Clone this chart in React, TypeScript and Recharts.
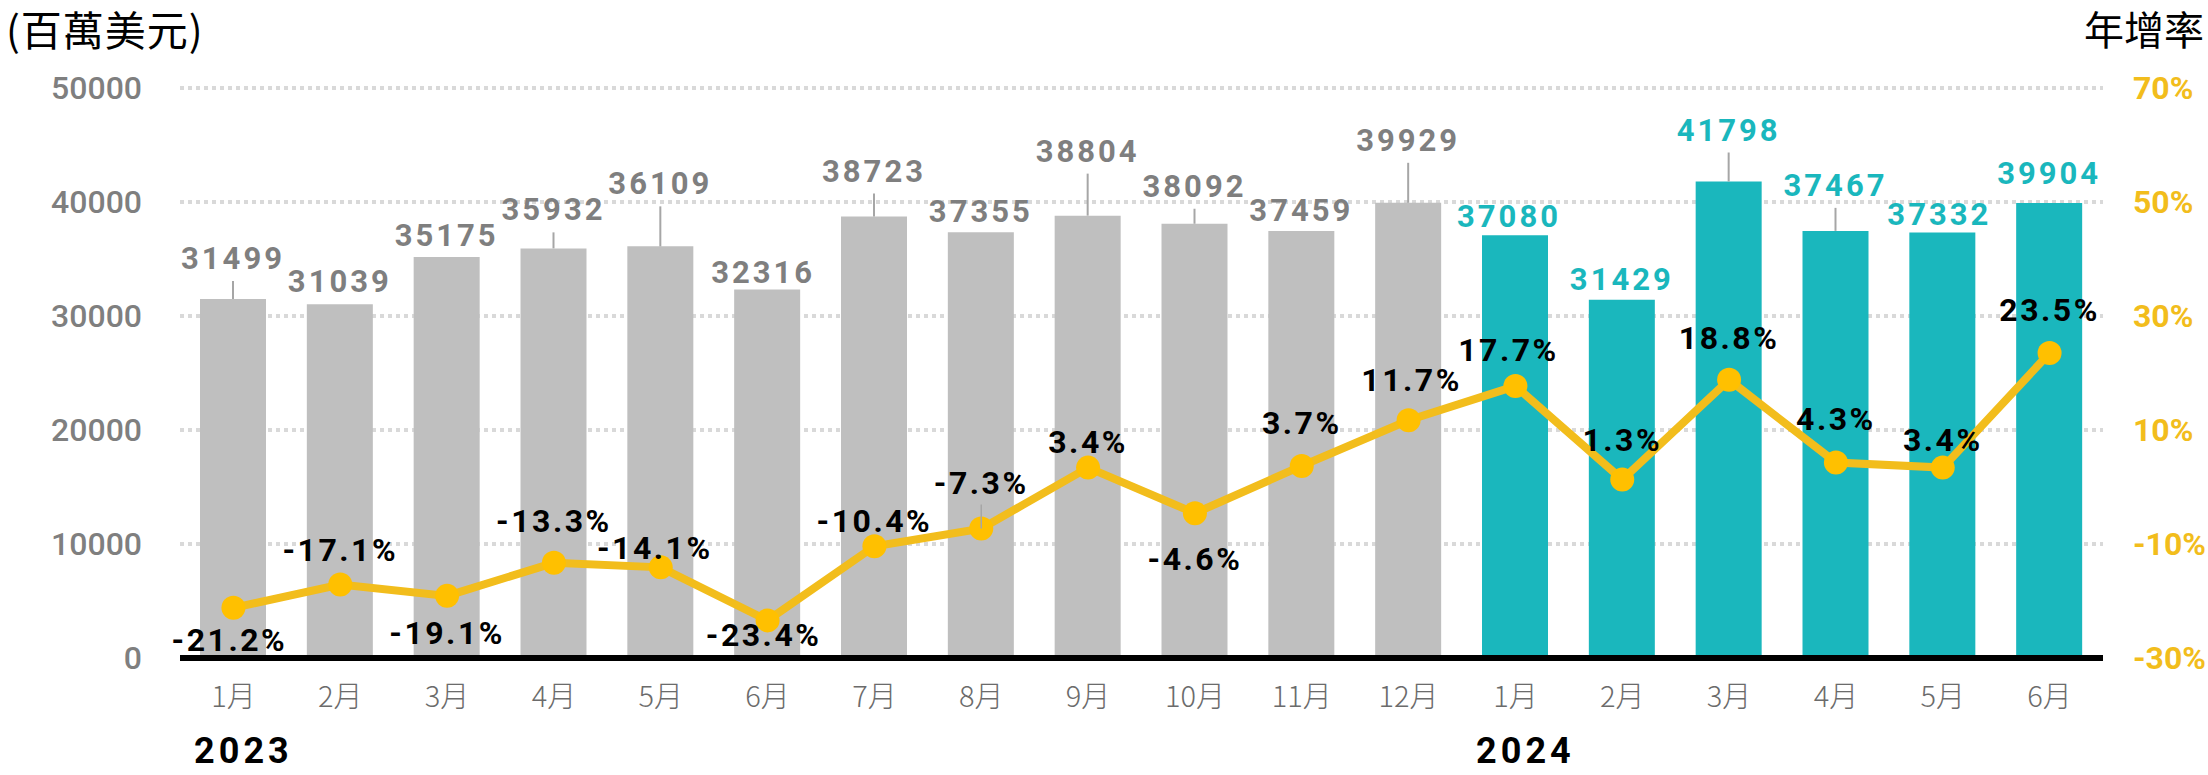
import React from "react"
import {
  ComposedChart,
  Bar,
  Line,
  XAxis,
  YAxis,
  CartesianGrid,
  Cell,
  LabelList,
} from "recharts"

const months = ["1月", "2月", "3月", "4月", "5月", "6月", "7月", "8月", "9月", "10月", "11月", "12月", "1月", "2月", "3月", "4月", "5月", "6月"]
const years = ["2023", "2023", "2023", "2023", "2023", "2023", "2023", "2023", "2023", "2023", "2023", "2023", "2024", "2024", "2024", "2024", "2024", "2024"]
const exportValues = [31499, 31039, 35175, 35932, 36109, 32316, 38723, 37355, 38804, 38092, 37459, 39929, 37080, 31429, 41798, 37467, 37332, 39904]
const growthRates = [-21.2, -17.1, -19.1, -13.3, -14.1, -23.4, -10.4, -7.3, 3.4, -4.6, 3.7, 11.7, 17.7, 1.3, 18.8, 4.3, 3.4, 23.5]
const leftTicks = [0, 10000, 20000, 30000, 40000, 50000]
const rightTicks = [-30, -10, 10, 30, 50, 70]

// label placement
const barLabelGap = [30, 12, 11, 28, 52, 7, 35, 10, 54, 27, 10, 52, 8, 10, 41, 35, 7, 19]
const barLabelDx = [0, 0, 0, 0, 0, -4, 0, 0, 0, 0, 0, 0, -6, 0, 0, 0, -3, 0]
const growthLabelDy = [43, -23, 48, -31, -8, 26, -14, -35, -15, 57, -32, -29, -25, -29, -31, -32, -17, -32]
const growthLabelDx = [-4, 0, 0, 0, -6, -4, 0, 0, 0, 0, 0, 3, -7, 0, 0, 0, 0, 0]

const GRAY = "#BFBFBF"
const TEAL = "#1AB7BD"
const GOLD = "#F2BD1C"
const NUM_FONT = "Roboto, 'Noto Sans CJK TC', sans-serif"
const CJK_FONT = "'Noto Sans CJK TC', 'Noto Sans', sans-serif"

const data = months.map((m, i) => ({
  key: `${years[i]}-${i}`,
  month: m,
  year: years[i],
  value: exportValues[i],
  growth: growthRates[i],
}))

function MonthTick(props: any) {
  const { x, y, payload } = props
  const i = data.findIndex((d) => d.key === payload.value)
  if (i < 0) return null
  const showYear = i === 0 || (i > 0 && years[i] !== years[i - 1])
  return (
    <g>
      <text x={x} y={y + 41} textAnchor="middle" fill="#6B6B6B" fontSize={29} fontWeight={300} fontFamily={CJK_FONT}>
        {months[i]}
      </text>
      {showYear && (
        <text x={x + 10} y={y + 97} textAnchor="middle" fill="#000" fontSize={36} fontWeight={700} letterSpacing={4} fontFamily={NUM_FONT}>
          {years[i]}
        </text>
      )}
    </g>
  )
}

function BarValueLabel(props: any) {
  const { x, y, width, index, value } = props
  const cx = Number(x) + Number(width) / 2 + (barLabelDx[index] ?? 0)
  const top = Number(y)
  const gap = barLabelGap[index] ?? 10
  const base = top - gap
  const color = years[index] === "2023" ? "#7F7F7F" : TEAL
  return (
    <g>
      {gap > 20 && (
        <line x1={cx} x2={cx} y1={top} y2={base + 12} stroke="#A6A6A6" strokeWidth={2} />
      )}
      <text x={cx} y={base} textAnchor="middle" fill={color} fontSize={31} fontWeight={700} letterSpacing={3} fontFamily={NUM_FONT}>
        {value}
      </text>
    </g>
  )
}

function GrowthLabel(props: any) {
  const { x, y, index, value } = props
  const dy = growthLabelDy[index] ?? -25
  const dx = growthLabelDx[index] ?? 0
  return (
    <g>
      {index === 7 && (
        <line x1={Number(x)} x2={Number(x)} y1={Number(y)} y2={Number(y) - 24} stroke="#A6A6A6" strokeWidth={1.5} />
      )}
      <text x={Number(x) + dx} y={Number(y) + dy} textAnchor="middle" fill="#000" fontSize={32} fontWeight={700} letterSpacing={2.5} fontFamily={NUM_FONT}>
        {Number(value).toFixed(1)}%
      </text>
    </g>
  )
}

export default function App() {
  return (
    <div style={{ position: "absolute", left: 0, top: 0, width: 2208, height: 775, background: "#fff" }}>
      <div style={{ position: "absolute", left: 6, top: 6, fontSize: 41, lineHeight: "44px", letterSpacing: 1, fontFamily: CJK_FONT, color: "#000" }}>
        (百萬美元)
      </div>
      <div style={{ position: "absolute", right: 4, top: 6, fontSize: 40, lineHeight: "44px", fontFamily: CJK_FONT, color: "#000" }}>
        年增率
      </div>
      <ComposedChart width={2208} height={775} data={data} margin={{ top: 88, right: 5, bottom: 16, left: 10 }}>
        <CartesianGrid yAxisId="left" vertical={false} stroke="#D9D9D9" strokeWidth={4} strokeDasharray="4 4" />
        <XAxis
          dataKey="key"
          height={101}
          interval={0}
          tickLine={false}
          axisLine={{ stroke: "#000", strokeWidth: 6 }}
          tick={<MonthTick />}
        />
        <YAxis
          yAxisId="left"
          width={170}
          domain={[0, 50000]}
          ticks={leftTicks}
          tickLine={false}
          axisLine={false}
          tickMargin={32}
          tick={{ fill: "#7F7F7F", fontSize: 32, fontWeight: 500, fontFamily: NUM_FONT }}
        />
        <YAxis
          yAxisId="right"
          orientation="right"
          width={100}
          domain={[-30, 70]}
          ticks={rightTicks}
          tickLine={false}
          axisLine={false}
          tickMargin={24}
          tickFormatter={(v: number) => `${v}%`}
          tick={{ fill: GOLD, fontSize: 32, fontWeight: 700, fontFamily: NUM_FONT, textAnchor: "start" }}
        />
        <Bar yAxisId="left" dataKey="value" barSize={66} isAnimationActive={false}>
          {data.map((d) => (
            <Cell key={d.key} fill={d.year === "2023" ? GRAY : TEAL} />
          ))}
          <LabelList dataKey="value" content={<BarValueLabel />} />
        </Bar>
        <Line
          yAxisId="right"
          dataKey="growth"
          stroke={GOLD}
          strokeWidth={8}
          dot={{ r: 12, fill: "#FFC000", stroke: "#FFC000", strokeWidth: 0 }}
          activeDot={false}
          isAnimationActive={false}
        >
          <LabelList dataKey="growth" content={<GrowthLabel />} />
        </Line>
      </ComposedChart>
    </div>
  )
}
